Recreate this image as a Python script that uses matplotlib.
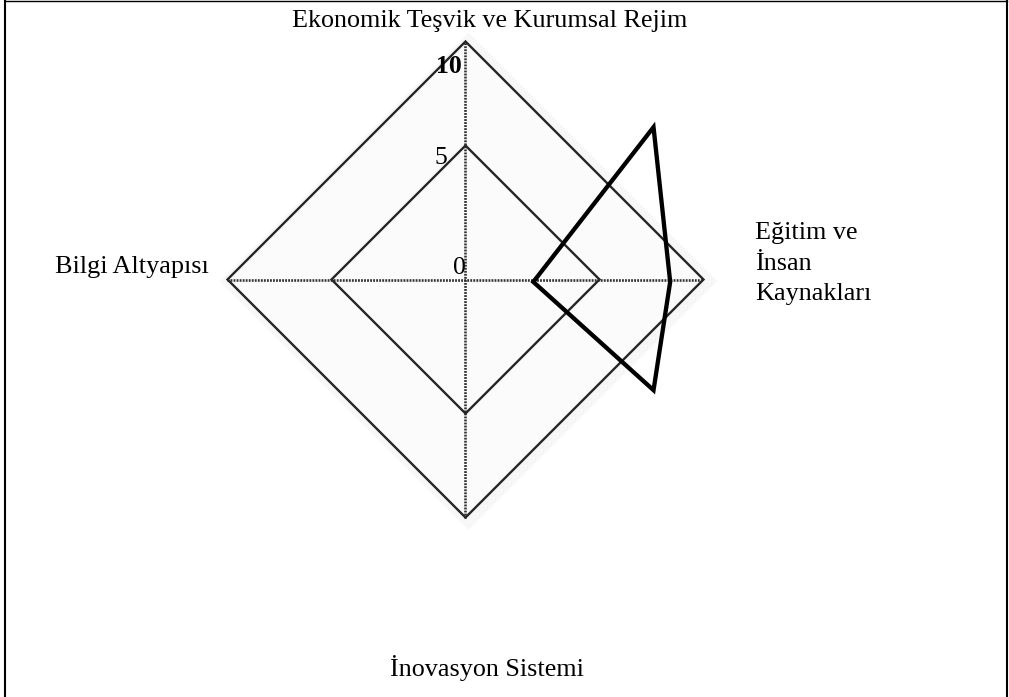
import matplotlib
matplotlib.use("Agg")
import matplotlib.pyplot as plt
from matplotlib.patches import Polygon
from matplotlib.lines import Line2D
import numpy as np

# ---- data ----
axis_labels = ["Ekonomik Teşvik ve Kurumsal Rejim", "Eğitim ve\nİnsan\nKaynakları",
               "İnovasyon Sistemi", "Bilgi Altyapısı"]
grid_levels = [5, 10]
tick_values = [0, 5, 10]
tick_labels = ["0", "5", "10"]
v_min, v_max = -1.44, 10          # radial scale (centre of the chart is v_min)
# series outline as drawn (x = right axis, y = top axis, in scale units of radius 10)
series_x = [2.85, 7.9, 8.6, 7.9]
series_y = [-0.1, 6.4, -0.1, -4.65]

W, H = 1009, 697
R = 10.0
fig = plt.figure(figsize=(W / 100, H / 100), dpi=100)
ax = fig.add_axes([0, 0, 1, 1])
cx, cy, scale = 465.5, 279.5, 23.8  # pixel centre and px per unit
ax.set_xlim(-cx / scale, (W - cx) / scale)
ax.set_ylim(-(H - cy) / scale, cy / scale)
ax.axis("off")

def radius(v):
    return (v - v_min) / (v_max - v_min) * R

def px(x, y):
    return ((x - cx) / scale, (cy - y) / scale)

serif = "Liberation Serif"

def diamond(r, dx=0.0, dy=0.0):
    return [(dx, r + dy), (r + dx, dy), (dx, -r + dy), (-r + dx, dy)]

# soft shadow and fill
ax.add_patch(Polygon(diamond(R * 1.045, 0.13, -0.07), closed=True,
                     facecolor="#f7f7f7", edgecolor="none", zorder=0))
ax.add_patch(Polygon(diamond(R), closed=True, facecolor="#fbfbfb",
                     edgecolor="none", zorder=1))

# axes (dotted)
ax.plot([-R, R], [0, 0], color="#333333", lw=1.9, ls=(0, (0.7, 0.45)), zorder=2)
ax.plot([0, 0], [-R, R], color="#333333", lw=1.9, ls=(0, (0.7, 0.45)), zorder=2)

# grid diamonds
for lv in grid_levels:
    ax.add_patch(Polygon(diamond(radius(lv)), closed=True, facecolor="none",
                         edgecolor="#262626", lw=1.7, zorder=3))

# series
ax.add_patch(Polygon(list(zip(series_x, series_y)), closed=True, facecolor="none",
                     edgecolor="black", lw=3.1, joinstyle="miter", zorder=5))

# tick labels (right-aligned next to the vertical axis, just under each level)
tick_dx = [0.0, -0.75, -0.15]
tick_dy = [-0.3, -0.08, -0.58]
for v, lab, dx, dy in zip(tick_values, tick_labels, tick_dx, tick_dy):
    ax.text(dx, radius(v) + dy, lab, ha="right", va="top", fontsize=18.5, family=serif,
            fontweight="bold" if v == v_max else "normal", zorder=6)

fs = 18.8
# axis labels
tx, ty = px(490, 27)
ax.text(tx, ty, axis_labels[0], ha="center", va="baseline", fontsize=fs, family=serif)
for i, line in enumerate(axis_labels[1].split("\n")):
    lx, ly = px(755, 239 + i * 30.5)
    ax.text(lx, ly, line, ha="left", va="baseline", fontsize=fs, family=serif)
bx, by = px(486.5, 676)
ax.text(bx, by, axis_labels[2], ha="center", va="baseline", fontsize=fs, family=serif)
lx, ly = px(55, 273)
ax.text(lx, ly, axis_labels[3], ha="left", va="baseline", fontsize=fs, family=serif)

# frame (left, top, right)
lwb = 1.5
fig.add_artist(Line2D([5 / W, 5 / W], [0, 1], transform=fig.transFigure, color="black", lw=lwb))
fig.add_artist(Line2D([1007 / W, 1007 / W], [0, 1], transform=fig.transFigure, color="black", lw=lwb))
fig.add_artist(Line2D([5 / W, 1007 / W], [1 - 0.7 / H, 1 - 0.7 / H], transform=fig.transFigure,
                      color="black", lw=1.0))

fig.savefig("out.png", dpi=100, facecolor="white")
